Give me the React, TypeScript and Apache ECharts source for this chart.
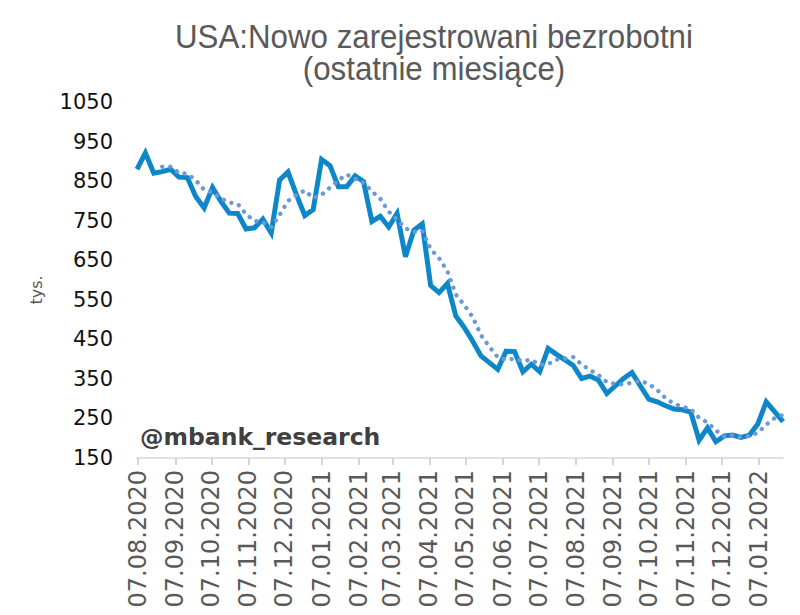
import React, { useEffect, useRef } from "react";
import * as echarts from "echarts";

// weekly initial claims, thousands (first week 06.08.2020, last 27.01.2022)
const firstWeek = "2020-08-06";
const lastDay = "2022-01-27";
const claims = [
  880, 921, 870, 874, 880, 860, 859, 811, 782, 834, 799, 769, 768, 729, 732, 754,
  719, 853, 873, 816, 763, 778, 905, 889, 836, 836, 863, 849, 748, 761, 734, 768,
  659, 726, 742, 586, 568, 591, 509, 480, 446, 408, 391, 374, 420, 419, 368, 387,
  368, 427, 412, 398, 384, 351, 357, 347, 313, 332, 351, 366, 332, 299, 292, 282,
  274, 272, 266, 195, 226, 191, 206, 208, 202, 208, 236, 292, 267, 242,
];
// 4-week moving average trend line (dotted)
const trend4w = [
  null, null, null, 886.3, 886.3, 871.0, 868.3, 852.5, 828.0, 821.5, 806.5, 796.0,
  792.5, 766.3, 749.5, 745.8, 733.5, 764.5, 799.8, 815.3, 826.3, 807.5, 815.5, 833.8,
  852.0, 866.5, 856.0, 846.0, 824.0, 805.3, 773.0, 752.8, 730.5, 721.8, 723.8, 678.3,
  655.5, 621.8, 563.5, 537.0, 506.5, 460.8, 431.3, 404.8, 398.3, 401.0, 395.3, 398.5,
  385.5, 387.5, 398.5, 401.3, 405.3, 386.3, 372.5, 359.8, 342.0, 337.3, 335.8, 340.5,
  345.3, 337.0, 322.3, 301.3, 286.8, 280.0, 273.5, 251.8, 239.8, 219.5, 204.5, 207.8,
  201.8, 206.0, 213.5, 234.5, 250.8, 259.3,
];
const yMin = 150;
const yMax = 1050;
const yStep = 100;
const titleLines = ["USA:Nowo zarejestrowani bezrobotni", "(ostatnie miesiące)"];

const DAY = 86400000;
const pad = (n: number) => (n < 10 ? "0" + n : "" + n);
const fmt = (t: number) => {
  const d = new Date(t);
  return `${pad(d.getUTCDate())}.${pad(d.getUTCMonth() + 1)}.${d.getUTCFullYear()}`;
};
const t0 = Date.parse(firstWeek + "T00:00:00Z");
const t1 = Date.parse(lastDay + "T00:00:00Z");
const days: string[] = [];
for (let t = t0; t <= t1; t += DAY) days.push(fmt(t));
const weekLabel = (i: number) => fmt(t0 + i * 7 * DAY);

export default function App() {
  const ref = useRef<HTMLDivElement>(null);
  useEffect(() => {
    if (!ref.current) return;
    document.body.style.margin = "0";
    const chart = echarts.init(ref.current, undefined, { renderer: "svg" });
    const isMonthTick = (_i: number, v: string) => v.startsWith("07.");
    const titleStyle = {
      fontFamily: "Liberation Sans",
      fontSize: 34,
      fill: "#595959",
      align: "center",
      verticalAlign: "middle",
    };
    chart.setOption({
      animation: false,
      backgroundColor: "#ffffff",
      grid: { left: 137, right: 17, top: 102, bottom: 157, containLabel: false },
      xAxis: {
        type: "category",
        data: days,
        boundaryGap: false,
        axisLine: { lineStyle: { color: "#d9d9d9", width: 1.5 } },
        axisTick: { interval: isMonthTick, length: 7, lineStyle: { color: "#c8c8c8", width: 1.5 } },
        axisLabel: {
          interval: isMonthTick,
          rotate: 90,
          margin: 12,
          fontFamily: "DejaVu Sans",
          fontSize: 24,
          color: "#595959",
        },
        splitLine: { show: false },
      },
      yAxis: {
        type: "value",
        min: yMin,
        max: yMax,
        interval: yStep,
        axisLine: { show: false },
        axisTick: { show: false },
        splitLine: { show: false },
        axisLabel: {
          margin: 24,
          fontFamily: "DejaVu Sans",
          fontSize: 21,
          color: "#111111",
          formatter: (v: number) => String(v),
        },
      },
      graphic: [
        {
          type: "text",
          x: 434,
          y: 36,
          scaleX: 0.92,
          style: { ...titleStyle, text: titleLines[0] },
        },
        {
          type: "text",
          x: 434,
          y: 68,
          scaleX: 0.92,
          style: { ...titleStyle, text: titleLines[1] },
        },
        {
          type: "text",
          x: 36,
          y: 290,
          rotation: Math.PI / 2,
          style: {
            text: "tys.",
            fontFamily: "DejaVu Sans",
            fontSize: 16,
            fill: "#595959",
            align: "center",
            verticalAlign: "middle",
          },
        },
        {
          type: "text",
          x: 140,
          y: 437,
          style: {
            text: "@mbank_research",
            fontFamily: "DejaVu Sans",
            fontWeight: "bold",
            fontSize: 23.5,
            fill: "#404040",
            align: "left",
            verticalAlign: "middle",
          },
        },
      ],
      series: [
        {
          type: "line",
          name: "Nowo zarejestrowani bezrobotni",
          data: claims.map((v, i) => [weekLabel(i), v]),
          showSymbol: false,
          symbol: "none",
          lineStyle: { color: "#0e87c9", width: 5, join: "miter" },
          z: 2,
        },
        {
          type: "line",
          name: "Średnia 4-tyg.",
          data: trend4w.map((v, i) => [weekLabel(i), v]),
          showSymbol: false,
          symbol: "none",
          connectNulls: false,
          lineStyle: { color: "#6b98d8", width: 4.3, type: [0.1, 8], cap: "round" },
          z: 3,
        },
      ],
    });
    return () => chart.dispose();
  }, []);
  return <div ref={ref} style={{ width: 800, height: 615 }} />;
}
